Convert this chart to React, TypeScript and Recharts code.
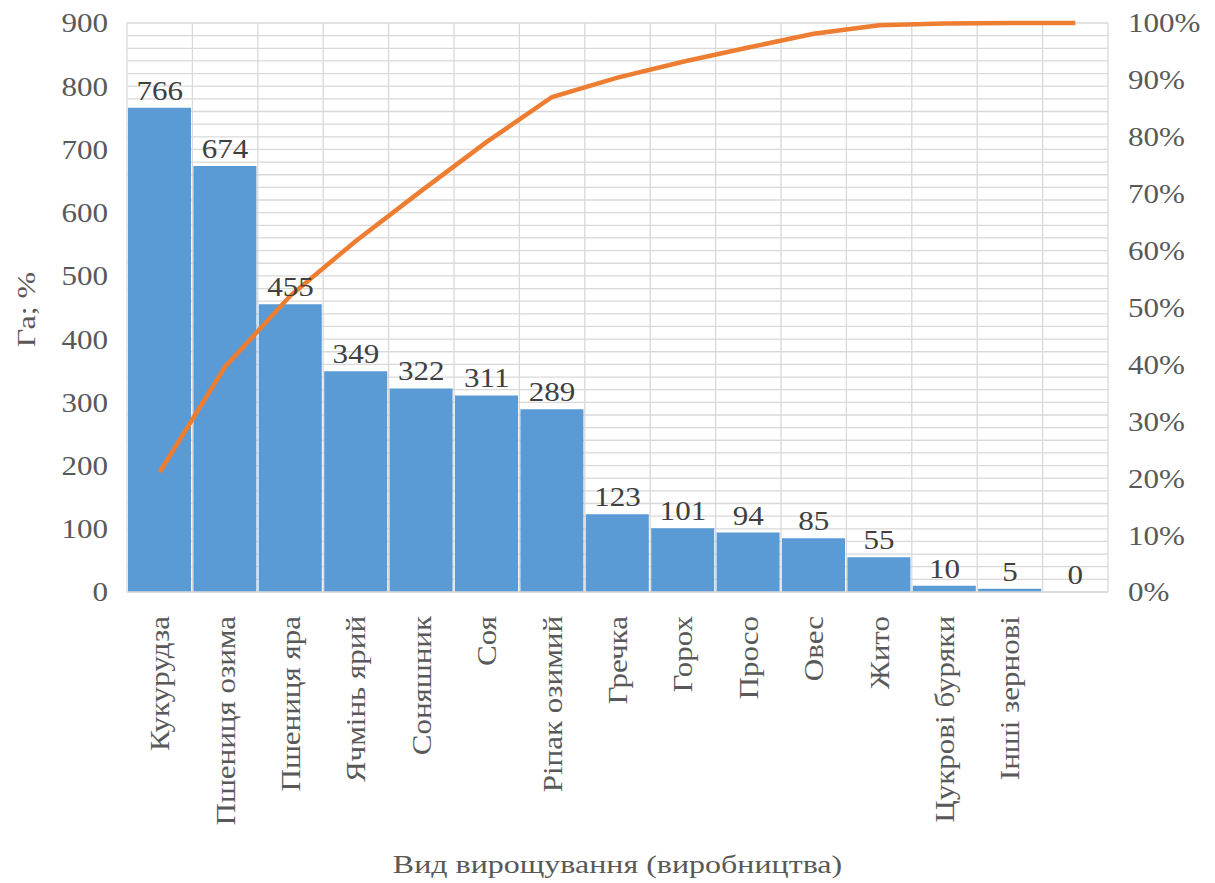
import { ComposedChart, Bar, Line, XAxis, YAxis, CartesianGrid, LabelList } from "recharts";

const categories = [
  "Кукурудза",
  "Пшениця озима",
  "Пшениця яра",
  "Ячмінь ярий",
  "Соняшник",
  "Соя",
  "Ріпак озимий",
  "Гречка",
  "Горох",
  "Просо",
  "Овес",
  "Жито",
  "Цукрові буряки",
  "Інші зернові",
  "",
];
const areaHa = [766, 674, 455, 349, 322, 311, 289, 123, 101, 94, 85, 55, 10, 5, 0];
// cumulative share
const cumulativePct = [21.1, 39.6, 52.1, 61.7, 70.5, 79.1, 87.0, 90.4, 93.2, 95.7, 98.1, 99.6, 99.9, 100, 100];
// left axis carries a tick every 20 for the gridlines, labels only every 100
const haTicks = [
  0, 20, 40, 60, 80, 100, 120, 140, 160, 180, 200, 220, 240, 260, 280, 300, 320, 340, 360, 380, 400,
  420, 440, 460, 480, 500, 520, 540, 560, 580, 600, 620, 640, 660, 680, 700, 720, 740, 760, 780, 800,
  820, 840, 860, 880, 900,
];
const pctTicks = [0, 10, 20, 30, 40, 50, 60, 70, 80, 90, 100];

const data = categories.map((name, i) => ({ name, ha: areaHa[i], cum: cumulativePct[i] }));

const FONT = "'Liberation Serif', 'DejaVu Serif', serif";
const TEXT = "#595959";
const GRID = "#d9d9d9";
const FS = 27;
const WIDE = 1.15; // the original's Times is noticeably wider
const TITLE_FS = 25;
const TITLE_WIDE = 1.28;

function CategoryTick({ x, y, payload }: any) {
  return (
    <text
      transform={`translate(${x}, ${y + 16}) rotate(-90) scale(${WIDE}, 1)`}
      textAnchor="end"
      dy="0.35em"
      fill={TEXT}
      fontSize={FS}
      style={{ fontFamily: FONT }}
    >
      {payload.value}
    </text>
  );
}

function HaTick({ x, y, payload }: any) {
  if (payload.value % 100 !== 0) return null;
  return (
    <text
      transform={`translate(${x}, ${y}) scale(${WIDE}, 1)`}
      dy="0.35em"
      textAnchor="end"
      fill={TEXT}
      fontSize={FS}
      style={{ fontFamily: FONT }}
    >
      {payload.value}
    </text>
  );
}

function PctTick({ x, y, payload }: any) {
  return (
    <text
      transform={`translate(${x}, ${y}) scale(${WIDE}, 1)`}
      dy="0.35em"
      textAnchor="start"
      fill={TEXT}
      fontSize={FS}
      style={{ fontFamily: FONT }}
    >
      {`${payload.value}%`}
    </text>
  );
}

function ValueLabel({ x, y, value }: any) {
  return (
    <text
      transform={`translate(${x}, ${y - 8}) scale(${WIDE}, 1)`}
      textAnchor="middle"
      fill="#404040"
      fontSize={FS}
      style={{ fontFamily: FONT }}
    >
      {value}
    </text>
  );
}

function XTitle({ viewBox }: any) {
  const { x, width } = viewBox;
  return (
    <text
      transform={`translate(${x + width / 2}, 873) scale(${TITLE_WIDE}, 1)`}
      textAnchor="middle"
      fill={TEXT}
      fontSize={TITLE_FS}
      style={{ fontFamily: FONT }}
    >
      Вид вирощування (виробництва)
    </text>
  );
}

function YTitle({ viewBox }: any) {
  const { y, height } = viewBox;
  return (
    <text
      transform={`translate(26, ${y + height / 2 + 2}) rotate(-90) scale(${TITLE_WIDE}, 1)`}
      textAnchor="middle"
      dy="0.35em"
      fill={TEXT}
      fontSize={TITLE_FS}
      style={{ fontFamily: FONT }}
    >
      Га; %
    </text>
  );
}

export default function App() {
  return (
    <div style={{ position: "absolute", left: 0, top: 0, background: "#fff", fontFamily: FONT }}>
      <ComposedChart
        width={1215}
        height={883}
        data={data}
        margin={{ top: 23, right: 0, bottom: 0, left: 0 }}
        barCategoryGap={1}
      >
        <CartesianGrid
          yAxisId="ha"
          stroke={GRID}
          strokeWidth={1.3}
          verticalCoordinatesGenerator={({ offset }: any) =>
            [...categories, "end"].map((_, i) => offset.left + (i * offset.width) / categories.length)
          }
        />
        <XAxis
          dataKey="name"
          height={291}
          interval={0}
          tickLine={false}
          axisLine={{ stroke: GRID, strokeWidth: 1.3 }}
          tick={<CategoryTick />}
          label={<XTitle />}
        />
        <YAxis
          yAxisId="ha"
          width={127}
          domain={[0, 900]}
          ticks={haTicks}
          interval={0}
          axisLine={false}
          tickLine={false}
          tickSize={0}
          tickMargin={19}
          tick={<HaTick />}
          label={<YTitle />}
        />
        <YAxis
          yAxisId="pct"
          orientation="right"
          width={107}
          domain={[0, 100]}
          ticks={pctTicks}
          interval={0}
          axisLine={false}
          tickLine={false}
          tickSize={0}
          tickMargin={20}
          tick={<PctTick />}
        />
        <Bar yAxisId="ha" dataKey="ha" fill="#5B9BD5" isAnimationActive={false} />
        {/* invisible series carrying the value labels, so the zero bar is labelled too */}
        <Line
          yAxisId="ha"
          dataKey="ha"
          stroke="none"
          dot={false}
          activeDot={false}
          isAnimationActive={false}
        >
          <LabelList dataKey="ha" content={<ValueLabel />} />
        </Line>
        <Line
          yAxisId="pct"
          dataKey="cum"
          type="linear"
          stroke="#ED7D31"
          strokeWidth={4.5}
          dot={false}
          activeDot={false}
          isAnimationActive={false}
        />
      </ComposedChart>
    </div>
  );
}
